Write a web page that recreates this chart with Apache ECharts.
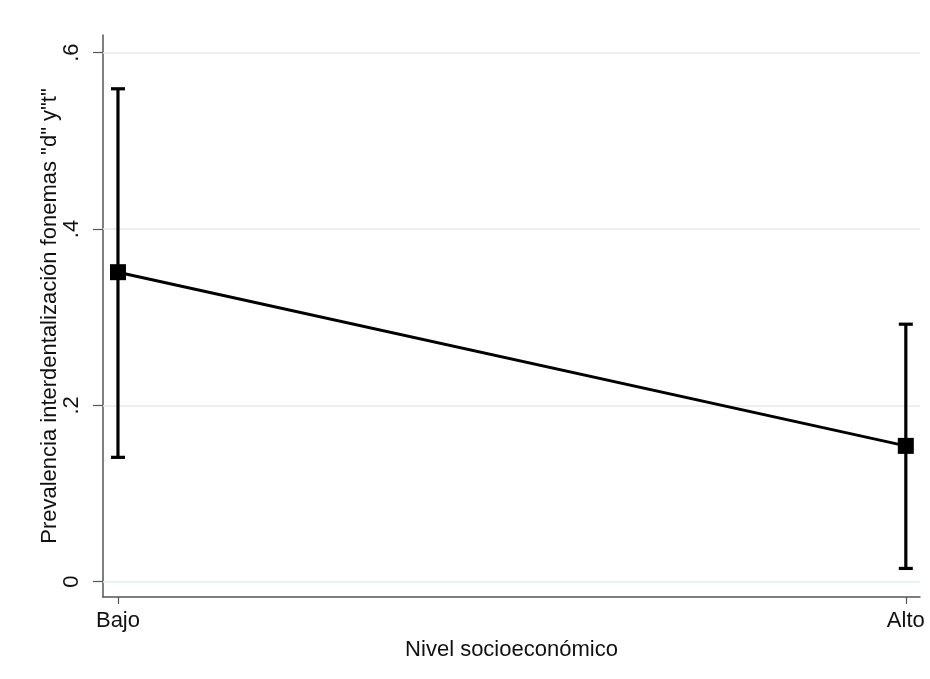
<!DOCTYPE html>
<html>
<head>
<meta charset="utf-8">
<script src="https://cdn.jsdelivr.net/npm/echarts@6/dist/echarts.min.js"></script>
<style>html,body{margin:0;padding:0;background:#fff}#c{width:930px;height:679px}</style>
</head>
<body>
<div id="c"></div>
<script>
var categories = ['Bajo', 'Alto'];
var catPos = [1, 2];
var means = [0.351, 0.154];
var lower = [0.141, 0.015];
var upper = [0.559, 0.292];
var yTicks = [0, 0.2, 0.4, 0.6];
var yTickLabels = ['0', '.2', '.4', '.6'];

var FONT = 'Liberation Sans, Arial, Helvetica, sans-serif';
var chart = echarts.init(document.getElementById('c'), null, {renderer: 'canvas'});

var linePts = catPos.map(function (p, i) { return [p, means[i]]; });
var errPts = catPos.map(function (p, i) { return [p, lower[i], upper[i]]; });

var option = {
  animation: false,
  backgroundColor: '#ffffff',
  grid: {left: 103, right: 10, top: 35, bottom: 82, containLabel: false},
  xAxis: {
    type: 'value',
    min: 0.981, max: 2.018,
    name: 'Nivel socioeconómico',
    nameLocation: 'middle',
    nameGap: 42,
    nameTextStyle: {fontFamily: FONT, fontSize: 22, color: '#111'},
    axisLine: {show: true, onZero: false, lineStyle: {color: '#555', width: 1.5}},
    axisTick: {show: true, customValues: catPos, length: 7, lineStyle: {color: '#555', width: 1.2}},
    axisLabel: {
      customValues: catPos,
      fontFamily: FONT, fontSize: 22, color: '#111', margin: 13,
      formatter: function (v) { var i = catPos.indexOf(v); return i >= 0 ? categories[i] : ''; }
    },
    splitLine: {show: false}
  },
  yAxis: {
    type: 'value',
    min: -0.0174, max: 0.62,
    name: 'Prevalencia interdentalización fonemas "d" y"t"',
    nameLocation: 'middle',
    nameGap: 42,
    nameMoveOverlap: false,
    nameRotate: 90,
    nameTextStyle: {fontFamily: FONT, fontSize: 22, color: '#111'},
    axisLine: {show: true, onZero: false, lineStyle: {color: '#555', width: 1.5}},
    axisTick: {show: true, customValues: yTicks, length: 10, lineStyle: {color: '#555', width: 1.2}},
    axisLabel: {
      customValues: yTicks,
      rotate: 90,
      fontFamily: FONT, fontSize: 22, color: '#111', margin: 20,
      formatter: function (v) {
        for (var i = 0; i < yTicks.length; i++) { if (Math.abs(yTicks[i] - v) < 1e-9) return yTickLabels[i]; }
        return '';
      }
    },
    splitLine: {show: false}
  },
  series: [
    {
      type: 'line',
      data: linePts,
      symbol: 'rect',
      symbolSize: 16,
      itemStyle: {color: '#000'},
      lineStyle: {color: '#000', width: 3},
      z: 5,
      markLine: {
        silent: true,
        symbol: 'none',
        label: {show: false},
        z: 1,
        data: yTicks.map(function (t) {
          return {yAxis: t, lineStyle: {color: t === 0 ? '#e0eeee' : '#e8e8e8', width: 1.5, type: 'solid'}};
        })
      }
    },
    {
      type: 'custom',
      data: errPts,
      z: 4,
      renderItem: function (params, api) {
        var x = api.value(0);
        var lo = api.coord([x, api.value(1)]);
        var hi = api.coord([x, api.value(2)]);
        var hw = 7;
        var st = {stroke: '#000', lineWidth: 3.2};
        return {
          type: 'group',
          children: [
            {type: 'line', shape: {x1: lo[0], y1: lo[1], x2: hi[0], y2: hi[1]}, style: st},
            {type: 'line', shape: {x1: lo[0] - hw, y1: lo[1], x2: lo[0] + hw, y2: lo[1]}, style: st},
            {type: 'line', shape: {x1: hi[0] - hw, y1: hi[1], x2: hi[0] + hw, y2: hi[1]}, style: st}
          ]
        };
      }
    }
  ]
};
chart.setOption(option);
</script>
</body>
</html>
